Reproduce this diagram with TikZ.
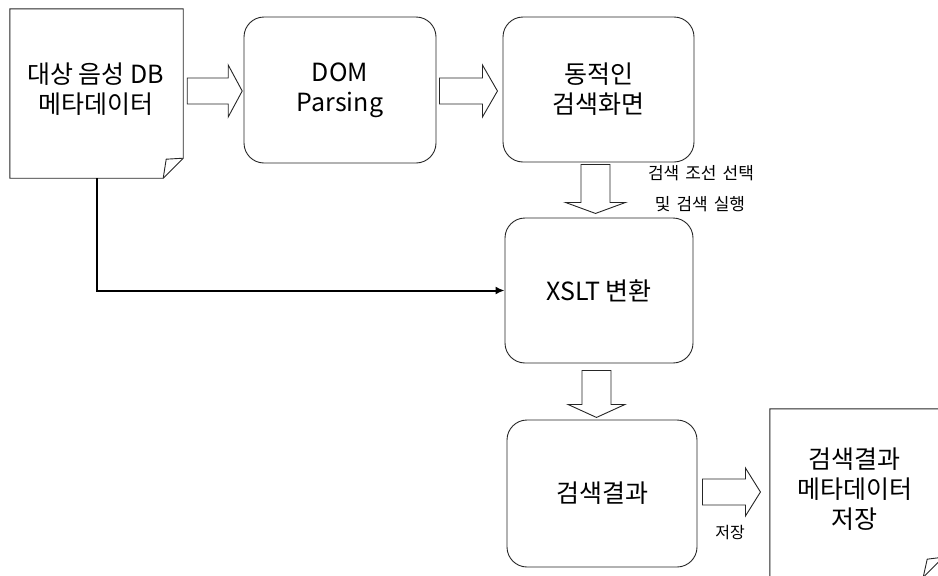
\documentclass[tikz,border=0pt]{standalone}
\usepackage{fontspec}
\setmainfont{Noto Sans CJK KR}
\usetikzlibrary{calc,arrows.meta}

\tikzset{
  outline/.style={draw=black!85, line width=0.9pt},
  rbox/.style={outline, rounded corners=20pt, inner sep=0pt, align=center,
    font=\fontsize{25}{30}\selectfont},
  docframe/.style={inner sep=0pt},
  doctext/.style={align=center, inner sep=0pt, font=\fontsize{25}{30}\selectfont},
  smalltext/.style={inner sep=0pt, font=\fontsize{17}{20}\selectfont},
  feed/.style={line width=2pt, -{Latex[length=9pt,width=8pt]}},
  pics/fatarrow/.style n args={4}{code={
    % #1 total length, #2 half shaft width, #3 half head width, #4 head length
    \draw[outline, line join=miter, fill=white]
      (0,-#2) -- ({#1-#4},-#2) -- ({#1-#4},-#3) -- (#1,0)
      -- ({#1-#4},#3) -- ({#1-#4},#2) -- (0,#2) -- cycle;
  }}
}

\begin{document}
\begin{tikzpicture}[x=1pt, y=-1pt]
  \useasboundingbox (0,0) rectangle (938,576);
  \clip (0,0) rectangle (938,576);

  % source metadata document
  \node[docframe, minimum width=173pt, minimum height=169pt] (doc1) at (96.5,93.5) {};
  \draw[outline]
    (doc1.north west) -- (doc1.north east) -- ($(doc1.south east)+(0,-20)$)
    -- ($(doc1.south east)+(-20,0)$) -- (doc1.south west) -- cycle;
  \draw[outline] ($(doc1.south east)+(-20,0)$) -- ($(doc1.south east)+(-17,-19)$)
    -- ($(doc1.south east)+(0,-20)$);
  \node[doctext] (doc1txt) at ($(doc1.center)+(-1,-4)$) {대상 음성 DB\\메타데이터};

  % processing steps
  \node[rbox, minimum width=192pt, minimum height=146pt] (dom) at (340,90) {DOM\\Parsing};
  \node[rbox, minimum width=191pt, minimum height=145pt] (dyn) at (598.5,89.5) {동적인\\검색화면};
  \node[rbox, minimum width=188pt, minimum height=145pt] (xslt) at (599,290.5) {XSLT 변환};
  \node[rbox, minimum width=190pt, minimum height=147pt] (res) at (602,493.5) {검색결과};

  % stored result document
  \node[docframe, minimum width=173pt, minimum height=168pt] (doc2) at (856.5,493) {};
  \draw[outline]
    (doc2.north west) -- (doc2.north east) -- ($(doc2.south east)+(0,-20)$)
    -- ($(doc2.south east)+(-20,0)$) -- (doc2.south west) -- cycle;
  \draw[outline] ($(doc2.south east)+(-20,0)$) -- ($(doc2.south east)+(-16,-18)$)
    -- ($(doc2.south east)+(0,-20)$);
  \node[doctext] (doc2txt) at ($(doc2.center)+(-2,-4)$) {검색결과\\메타데이터\\저장};

  % hollow flow arrows between the steps
  \pic at ($(doc1.east)+(4,-2.5)$) {fatarrow={55}{13}{26}{14}};
  \pic at ($(dom.east)+(3,1)$) {fatarrow={58}{13}{26}{15}};
  \pic[rotate=-90] at ($(dyn.south)+(-3,2)$) {fatarrow={49}{14.5}{30}{11}};
  \pic[rotate=-90] at ($(xslt.south)+(-2.5,7)$) {fatarrow={47}{14.5}{28.5}{13}};
  \pic at ($(res.east)+(5,-1.5)$) {fatarrow={58}{13}{24}{15}};

  % arrow labels
  \node[smalltext] (sel1) at (701,173) {검색\hspace{6pt}조선\hspace{6pt}선택};
  \node[smalltext] (sel2) at (700,204) {및\hspace{6pt}검색\hspace{6pt}실행};
  \node[smalltext, font=\fontsize{16}{20}\selectfont] (save) at (730,533) {저장};

  % metadata fed straight into the transformation
  \coordinate (bend) at (doc1.south |- xslt.west);
  \draw[feed] ($(doc1.south)+(0.5,0)$) -- ($(bend)+(0.5,0)$) -- (xslt.west);
\end{tikzpicture}
\end{document}
